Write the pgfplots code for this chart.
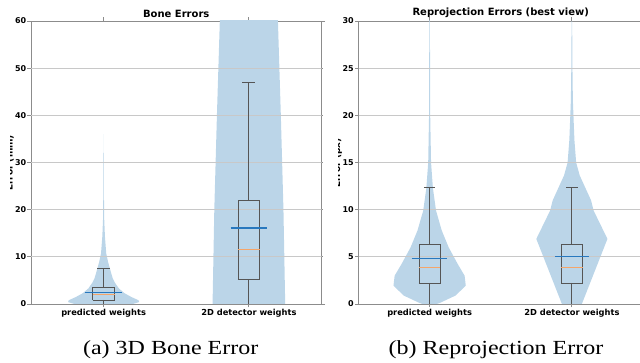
\documentclass[border=0pt]{standalone}
\usepackage{pgfplots}
\pgfplotsset{compat=1.18}
\usepackage{fontspec}
\setmainfont{Liberation Serif}
\newfontfamily\dv{DejaVu Sans}
\newfontfamily\capfont{Liberation Serif}[FakeStretch=1.2]
\definecolor{violin}{RGB}{187,213,232}
\definecolor{boxc}{RGB}{85,85,85}
\definecolor{medc}{RGB}{245,165,105}
\definecolor{meanc}{RGB}{40,120,190}
\definecolor{gridc}{RGB}{200,200,200}
\definecolor{spine}{RGB}{140,140,140}
\pgfplotsset{
  base/.style={
    scale only axis, height=283pt,
    xmin=0.5, xmax=2.5, xtick={1,2},
    xticklabels={predicted weights,2D detector weights},
    tick align=outside, major tick length=3.5pt,
    axis line style={spine, line width=0.9pt},
    tick style={spine, line width=0.8pt},
    ticklabel style={font=\dv\bfseries\fontsize{8}{9}\selectfont},
    xticklabel style={font=\dv\bfseries\fontsize{8.3}{9}\selectfont, yshift=1.5pt},
    yticklabel style={inner sep=1pt},
    /pgf/number format/assume math mode=true,
    title style={font=\dv\bfseries\fontsize{10}{12}\selectfont, yshift=-6pt},
  },
  vio/.style={fill=violin, draw=none, forget plot},
  grd/.style={gridc, line width=0.8pt, forget plot},
  bx/.style={boxc, line width=0.8pt, forget plot},
  md/.style={medc, line width=0.8pt, forget plot},
  mn/.style={meanc, line width=1.2pt, forget plot},
}
\begin{document}
\begin{tikzpicture}
\useasboundingbox (0,0) rectangle (640pt,363pt);
\begin{scope}
\clip (0,0) rectangle (640pt,363pt);
% ---------------- left panel ----------------
\begin{axis}[base, width=290.5pt, at={(31pt,59pt)}, anchor=south west,
  ymin=0, ymax=60, ytick={0,10,20,30,40,50,60}, title={Bone Errors}]
\addplot[vio] coordinates {(1.2,0)(1.245,0.4)(1.24,0.8)(1.19,1.5)(1.143,2.3)(1.105,3.3)(1.08,4.4)(1.062,5.5)(1.046,7.2)(1.03,9)(1.018,10.7)(1.009,14.3)(1.004,18)(1.0015,25)(1.0005,36)
 (0.9995,36)(0.9985,25)(0.996,18)(0.991,14.3)(0.982,10.7)(0.97,9)(0.954,7.2)(0.938,5.5)(0.92,4.4)(0.895,3.3)(0.857,2.3)(0.81,1.5)(0.76,0.8)(0.755,0.4)(0.8,0)};
\addplot[vio] coordinates {(2.25,-1)(2.25,0)(2.238,20)(2.22,40)(2.2,60)(2.19,70)(1.81,70)(1.8,60)(1.78,40)(1.762,20)(1.75,0)(1.75,-1)};
\addplot[grd] coordinates {(0.5,10)(2.5,10)};
\addplot[grd] coordinates {(0.5,20)(2.5,20)};
\addplot[grd] coordinates {(0.5,30)(2.5,30)};
\addplot[grd] coordinates {(0.5,40)(2.5,40)};
\addplot[grd] coordinates {(0.5,50)(2.5,50)};
% box 1
\addplot[bx] coordinates {(0.925,0.85)(1.075,0.85)(1.075,3.5)(0.925,3.5)(0.925,0.85)};
\addplot[bx] coordinates {(1,3.5)(1,7.6)};
\addplot[bx] coordinates {(1,0.85)(1,0)};
\addplot[bx] coordinates {(0.956,7.6)(1.044,7.6)};
\addplot[md] coordinates {(0.925,2.05)(1.075,2.05)};
\addplot[mn] coordinates {(0.875,2.5)(1.125,2.5)};
% box 2
\addplot[bx] coordinates {(1.925,5.2)(2.075,5.2)(2.075,22)(1.925,22)(1.925,5.2)};
\addplot[bx] coordinates {(2,22)(2,47)};
\addplot[bx] coordinates {(2,5.2)(2,0)};
\addplot[bx] coordinates {(1.956,47)(2.044,47)};
\addplot[md] coordinates {(1.925,11.6)(2.075,11.6)};
\addplot[mn] coordinates {(1.875,16.1)(2.125,16.1)};
\end{axis}
% ---------------- right panel ----------------
\begin{axis}[base, width=284.5pt, at={(358.5pt,59pt)}, anchor=south west,
  ymin=0, ymax=30, ytick={0,5,10,15,20,25,30}, title={Reprojection Errors (best view)}]
\addplot[vio] coordinates {(1.05,0)(1.07,0.1)(1.183,0.9)(1.254,1.95)(1.246,3.0)(1.197,4.25)(1.134,6.0)(1.085,7.8)(1.045,9.9)(1.023,12.3)(1.01,15)(1.004,20)(1.002,30)(1,31)
 (0.998,30)(0.996,20)(0.99,15)(0.977,12.3)(0.955,9.9)(0.915,7.8)(0.866,6.0)(0.803,4.25)(0.754,3.0)(0.746,1.95)(0.817,0.9)(0.93,0.1)(0.95,0)};
\addplot[vio] coordinates {(2.056,-0.5)(2.07,0)(2.25,6.9)(2.153,9.9)(2.135,10.98)(2.055,13.63)(2.03,15)(2.018,17.35)(2.011,20)(2.007,21.6)(2.004,25)(2.002,30)
 (1.998,30)(1.996,25)(1.993,21.6)(1.989,20)(1.982,17.35)(1.97,15)(1.945,13.63)(1.865,10.98)(1.847,9.9)(1.75,6.9)(1.93,0)(1.944,-0.5)};
\addplot[grd] coordinates {(0.5,5)(2.5,5)};
\addplot[grd] coordinates {(0.5,10)(2.5,10)};
\addplot[grd] coordinates {(0.5,15)(2.5,15)};
\addplot[grd] coordinates {(0.5,20)(2.5,20)};
\addplot[grd] coordinates {(0.5,25)(2.5,25)};
% box 1
\addplot[bx] coordinates {(0.925,2.23)(1.075,2.23)(1.075,6.27)(0.925,6.27)(0.925,2.23)};
\addplot[bx] coordinates {(1,6.27)(1,12.33)};
\addplot[bx] coordinates {(1,2.23)(1,0)};
\addplot[bx] coordinates {(0.96,12.33)(1.04,12.33)};
\addplot[md] coordinates {(0.925,3.83)(1.075,3.83)};
\addplot[mn] coordinates {(0.875,4.81)(1.125,4.81)};
% box 2
\addplot[bx] coordinates {(1.925,2.23)(2.075,2.23)(2.075,6.27)(1.925,6.27)(1.925,2.23)};
\addplot[bx] coordinates {(2,6.27)(2,12.33)};
\addplot[bx] coordinates {(2,2.23)(2,0)};
\addplot[bx] coordinates {(1.96,12.33)(2.04,12.33)};
\addplot[md] coordinates {(1.925,3.83)(2.075,3.83)};
\addplot[mn] coordinates {(1.88,5.0)(2.12,5.0)};
\end{axis}
% clipped y labels
\node[rotate=90, anchor=base, font=\dv\bfseries\fontsize{9}{10}\selectfont, inner sep=0pt] at (12.5pt,200pt) {Error (mm)};
\fill[white] (0,100pt) rectangle (10pt,300pt);
\node[rotate=90, anchor=base, font=\dv\bfseries\fontsize{9}{10}\selectfont, inner sep=0pt] at (340pt,200pt) {Error (px)};
\fill[white] (322.5pt,100pt) rectangle (337.5pt,300pt);
% captions
\node[anchor=base, font=\capfont\fontsize{20}{24}\selectfont, inner sep=0pt] at (170.7pt,8pt) {(a) 3D Bone Error};
\node[anchor=base, font=\capfont\fontsize{20}{24}\selectfont, inner sep=0pt] at (496pt,8pt) {(b) Reprojection Error};
\end{scope}
\end{tikzpicture}
\end{document}
